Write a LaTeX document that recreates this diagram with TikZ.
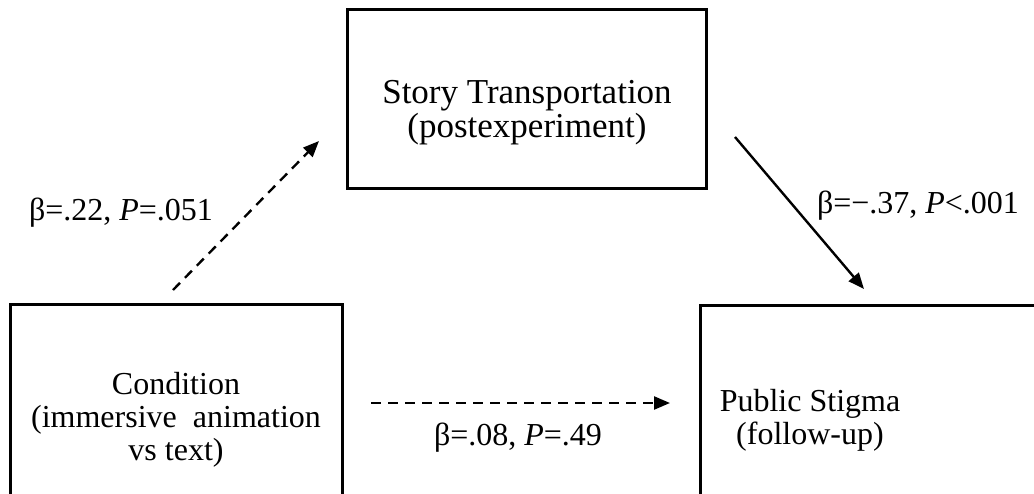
\documentclass[tikz,border=0pt]{standalone}
\usepackage{fontspec}
\setmainfont{Liberation Serif}
\usetikzlibrary{arrows.meta}
\begin{document}
\begin{tikzpicture}[x=1pt,y=-1pt,
  box/.style={draw=black,line width=3pt,minimum width=#1,inner sep=0pt},
  lbl/.style={font=\fontsize{32}{33}\selectfont,align=center,inner sep=0pt},
  conn/.style={line width=2.4pt,-{Triangle[length=16pt,width=13pt]}},
  dsh/.style={dash pattern=on 10pt off 7pt}]
\useasboundingbox (0,0) rectangle (1034,493);
\clip (0,0) rectangle (1034,493);
% boxes
\node[box=359pt,minimum height=179pt] (story) at (526.5,98.5) {};
\node[box=332pt,minimum height=230pt] (cond) at (176,419) {};
\node[box=380pt,minimum height=230pt] (stig) at (890,420) {};
% box texts
\node[lbl,font=\fontsize{35}{34}\selectfont] (storyt) at (527,113) {Story Transportation\\(postexperiment)};
\node[lbl] (condt) at (176,420) {Condition\\(immersive\ \ animation\\vs text)};
\node[lbl] (stigt) at (810,420) {Public Stigma\\(follow-up)};
% connector endpoints
\coordinate (a1) at (173,290);
\coordinate (a2) at (319,141);
\coordinate (b1) at (735,137);
\coordinate (b2) at (864,289);
\coordinate (c1) at (371,403);
\coordinate (c2) at (670,403);
\draw[conn,dsh] (a1) -- (a2);
\draw[conn] (b1) -- (b2);
\draw[conn,dsh] (c1) -- (c2);
% path labels
\node[lbl] (la) at (121,213) {β=.22, \textit{P}=.051};
\node[lbl] (lb) at (918,206) {β=−.37, \textit{P}<.001};
\node[lbl] (lc) at (518,438) {β=.08, \textit{P}=.49};
\end{tikzpicture}
\end{document}
